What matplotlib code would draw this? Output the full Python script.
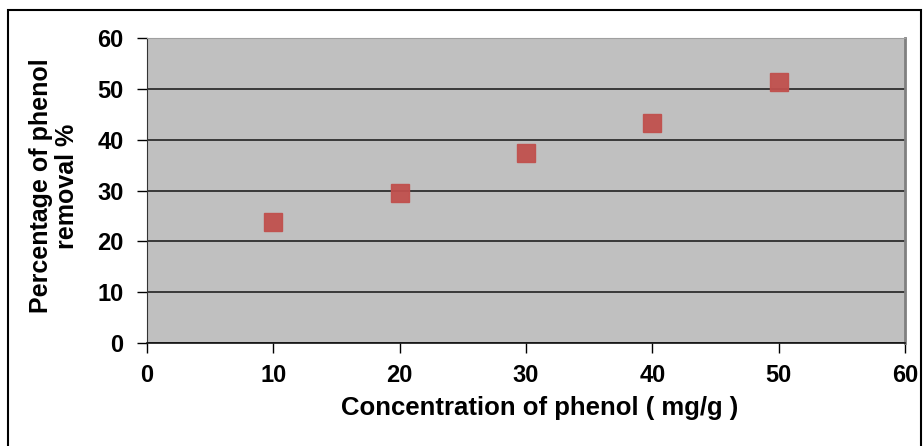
import matplotlib.pyplot as plt
from matplotlib.patches import Rectangle

x = [10, 20, 30, 40, 50]  # concentration mg/g
y = [23.9, 29.5, 37.4, 43.3, 51.3]  # removal %

xticks = [0, 10, 20, 30, 40, 50, 60]
yticks = [0, 10, 20, 30, 40, 50, 60]

font = dict(family="Liberation Sans", fontweight="bold", color="black")

fig = plt.figure(figsize=(9.23, 4.46), dpi=100)
ax = fig.add_axes([0.1593, 0.2309, 0.8212, 0.6839])

# outer chart border
fig.patches.append(Rectangle((8 / 923, -0.01), 913 / 923, 1 - 10 / 446 + 0.01,
                             transform=fig.transFigure, fill=False,
                             edgecolor="black", linewidth=1.5))

ax.set_facecolor("#c0c0c0")
ax.plot(x, y, linestyle="none", marker="s", ms=13, mfc="#c0504d",
        mec="#c0504d", alpha=0.95, zorder=3)

ax.set_xlim(0, 60)
ax.set_ylim(0, 60)
ax.set_xticks(xticks)
ax.set_yticks(yticks)
ax.yaxis.grid(True, color="#222222", linewidth=1.2)
ax.set_axisbelow(True)

ax.spines["top"].set_color("#a0a0a0")
ax.spines["right"].set_color("#808080")
ax.spines["right"].set_linewidth(2)
ax.spines["left"].set_color("#333333")
ax.spines["bottom"].set_color("#111111")
ax.spines["bottom"].set_linewidth(1.2)

ax.tick_params(axis="both", direction="out", length=7, width=1, labelsize=17)
ax.tick_params(axis="x", pad=8)
ax.tick_params(axis="y", pad=10)
for lbl in ax.get_xticklabels() + ax.get_yticklabels():
    lbl.set_fontfamily("Liberation Sans")
    lbl.set_fontweight("bold")

ax.set_xlabel("Concentration of phenol ( mg/g )", fontsize=18.5, **font)
ax.xaxis.set_label_coords(0.5185, -0.213)
ax.xaxis.label.set_va("center")
ax.set_ylabel("Percentage of phenol\nremoval %", fontsize=18,
              linespacing=1.15, **font)
ax.yaxis.set_label_coords(-0.1227, 0.515)
ax.yaxis.label.set_va("center")

fig.savefig("out.png", dpi=100)
